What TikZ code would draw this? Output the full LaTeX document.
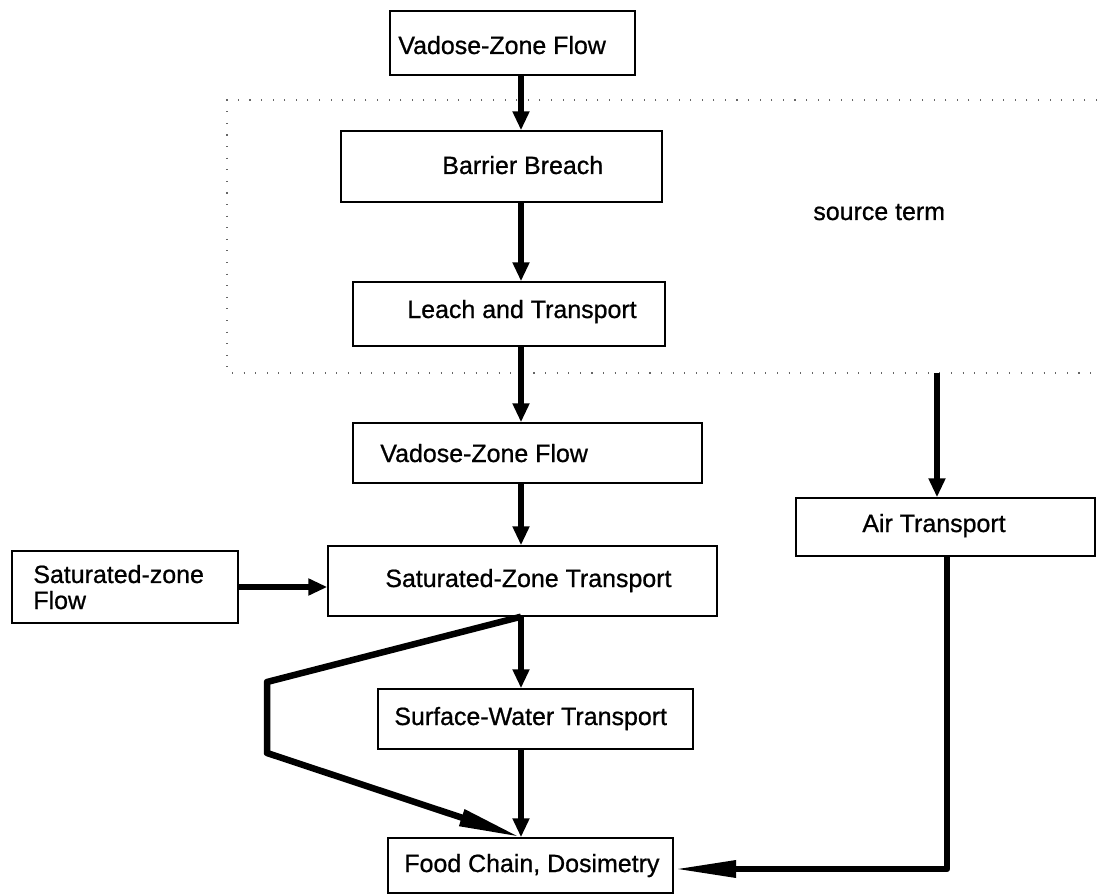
\documentclass[tikz,border=0pt]{standalone}
\usepackage{fontspec}
\setmainfont{Liberation Sans}
\newfontfamily\heavysans[FakeBold=0.8]{Liberation Sans}
\usetikzlibrary{arrows.meta}

\begin{document}
\begin{tikzpicture}[x=0.02cm, y=-0.02cm,
    blk/.style={draw, line width=0.8pt, rectangle, inner sep=0pt},
    lbl/.style={anchor=base west, inner sep=0pt, align=left, font=\heavysans\fontsize{14.2}{14.8}\selectfont},
    flow/.style={line width=0.13cm, -{Triangle[length=0.38cm, width=0.32cm]}},
    longflow/.style={line width=0.13cm, line join=round, -{Triangle[length=1.25cm, width=0.32cm]}},
    dotframe/.style={line width=0.7pt, dash pattern=on 0.6pt off 6pt, black!60}]
    \useasboundingbox (0,0) rectangle (1106,895);

    \draw [dotframe] (1097,100) -- (227,100) -- (227,373) -- (1097,373);

    \node [blk, minimum width=4.9cm, minimum height=1.28cm] (vz1) at (512.5,43) {};
    \node [blk, minimum width=6.42cm, minimum height=1.42cm] (bb) at (501.5,166.5) {};
    \node [blk, minimum width=6.24cm, minimum height=1.28cm] (lt) at (509,314) {};
    \node [blk, minimum width=6.98cm, minimum height=1.2cm] (vz2) at (527.5,453) {};
    \node [blk, minimum width=7.78cm, minimum height=1.4cm] (szt) at (522.5,581) {};
    \node [blk, minimum width=4.52cm, minimum height=1.44cm] (szf) at (125,587) {};
    \node [blk, minimum width=6.3cm, minimum height=1.2cm] (swt) at (535.5,719) {};
    \node [blk, minimum width=5.7cm, minimum height=1.1cm] (fcd) at (530.5,865.5) {};
    \node [blk, minimum width=5.98cm, minimum height=1.16cm] (air) at (945.5,527) {};

    \node [lbl] (vz1t) at (398,54) {Vadose-Zone Flow};
    \node [lbl] (bbt) at (442,174) {Barrier Breach};
    \node [lbl] (ltt) at (407,318) {Leach and Transport};
    \node [lbl] (vz2t) at (380,462) {Vadose-Zone Flow};
    \node [lbl] (sztt) at (385,587) {Saturated-Zone Transport};
    \node [lbl] (szft) at (33,609) {Saturated-zone\\Flow};
    \node [lbl] (swtt) at (394,725) {Surface-Water Transport};
    \node [lbl] (fcdt) at (404,872) {Food Chain, Dosimetry};
    \node [lbl] (airt) at (862,532) {Air Transport};
    \node [lbl] (src) at (813,220) {source term};

    \coordinate (spine) at (521,0);
    \coordinate (loopa) at (267,682);
    \coordinate (loopb) at (267,753);
    \coordinate (airtop) at (937,373);
    \coordinate (bend) at (947,869);

    \draw [flow] (vz1.south -| spine) -- (bb.north -| spine);
    \draw [flow] (bb.south -| spine) -- (lt.north -| spine);
    \draw [flow] (lt.south -| spine) -- (vz2.north -| spine);
    \draw [flow] (vz2.south -| spine) -- (szt.north -| spine);
    \draw [flow] (szf.east) -- (szt.west |- szf.east);
    \draw [flow] (szt.south -| spine) -- (swt.north -| spine);
    \draw [flow] (swt.south -| spine) -- (fcd.north -| spine);
    \draw [longflow] (szt.south -| spine) -- (loopa) -- (loopb) -- (fcd.north -| spine);
    \draw [flow] (airtop) -- (air.north -| airtop);
    \draw [longflow] (air.south -| bend) -- (bend) -- (fcd.east |- bend);
\end{tikzpicture}
\end{document}
